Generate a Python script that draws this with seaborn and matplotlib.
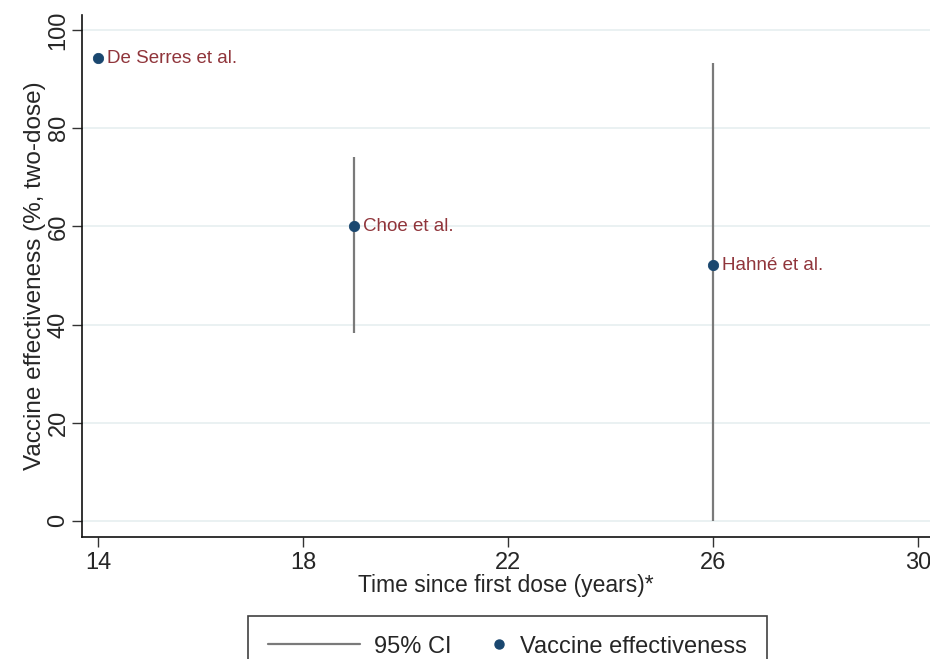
import matplotlib
matplotlib.use('Agg')
import matplotlib.pyplot as plt
import seaborn as sns
import pandas as pd
from matplotlib.lines import Line2D
from matplotlib.legend_handler import HandlerLine2D

studies = ['De Serres et al.', 'Choe et al.', 'Hahné et al.']
years = [14, 19, 26]
ve = [94.3, 60, 52.1]
ci_low = [93.5, 38.3, 0]
ci_high = [95, 74.1, 93.3]
x_ticks = [14, 18, 22, 26, 30]
y_ticks = [0, 20, 40, 60, 80, 100]

df = pd.DataFrame({'study': studies, 'years': years, 've': ve,
                   'lo': ci_low, 'hi': ci_high})

sns.set_style('white')
plt.rcParams['font.family'] = ['Liberation Sans', 'DejaVu Sans']

fig = plt.figure(figsize=(9.3, 6.59), dpi=100)
ax = fig.add_axes([0.0882, 0.1851, 0.9118, 0.7921])

navy = '#1a476f'
maroon = '#90353b'
grey = '#7a7a7a'

for y in y_ticks:
    ax.axhline(y, color='#e8f0f1', lw=1.3, zorder=0)

ax.vlines(df['years'], df['lo'], df['hi'], color=grey, lw=1.6, zorder=2)
sns.scatterplot(data=df, x='years', y='ve', ax=ax, color=navy, s=55,
                edgecolor=navy, zorder=3, legend=False)

for _, r in df.iterrows():
    ax.annotate(r['study'], (r['years'], r['ve']), xytext=(6.5, 0),
                textcoords='offset points', va='center', ha='left',
                color=maroon, fontsize=13.5)

ax.set_xlim(13.69, 30.23)
ax.set_ylim(-3.3, 103.06)
ax.set_xticks(x_ticks)
ax.set_yticks(y_ticks)
ax.tick_params(axis='both', direction='out', length=7, width=1, color='#333333',
               labelsize=17, bottom=True, left=True)
ax.tick_params(axis='x', pad=4)
ax.tick_params(axis='y', pad=2)
plt.setp(ax.get_yticklabels(), rotation=90, va='center')

for side in ['top', 'right']:
    ax.spines[side].set_visible(False)
for side in ['left', 'bottom']:
    ax.spines[side].set_color('#111111')
    ax.spines[side].set_linewidth(1.2)

ax.set_xlabel('Time since first dose (years)*', fontsize=16.5, labelpad=0)
ax.set_ylabel('Vaccine effectiveness (%, two-dose)', fontsize=17.5, labelpad=1)


class RightMarker(HandlerLine2D):
    # put the single marker near the right end of the handle, close to its text
    def get_xdata(self, legend, xdescent, ydescent, width, height, fontsize):
        m = -xdescent + width - 0.3 * fontsize
        return [m - 1, m + 1], [m]


line_h = Line2D([0], [0], color=grey, lw=1.6)
dot_h = Line2D([0], [0], marker='o', color='none', markerfacecolor=navy,
               markeredgecolor=navy, markersize=6.5)
leg = fig.legend([line_h, dot_h], ['95% CI', 'Vaccine effectiveness'], ncol=2,
                 loc='upper center', bbox_to_anchor=(0.546, 0.066),
                 frameon=True, fancybox=False, fontsize=17,
                 handlelength=3.9, handletextpad=0.6, columnspacing=-1.6,
                 borderpad=0.85, borderaxespad=0, edgecolor='#111111',
                 handler_map={dot_h: RightMarker()})
leg.get_frame().set_linewidth(1.2)

fig.savefig('out.png', dpi=100)
